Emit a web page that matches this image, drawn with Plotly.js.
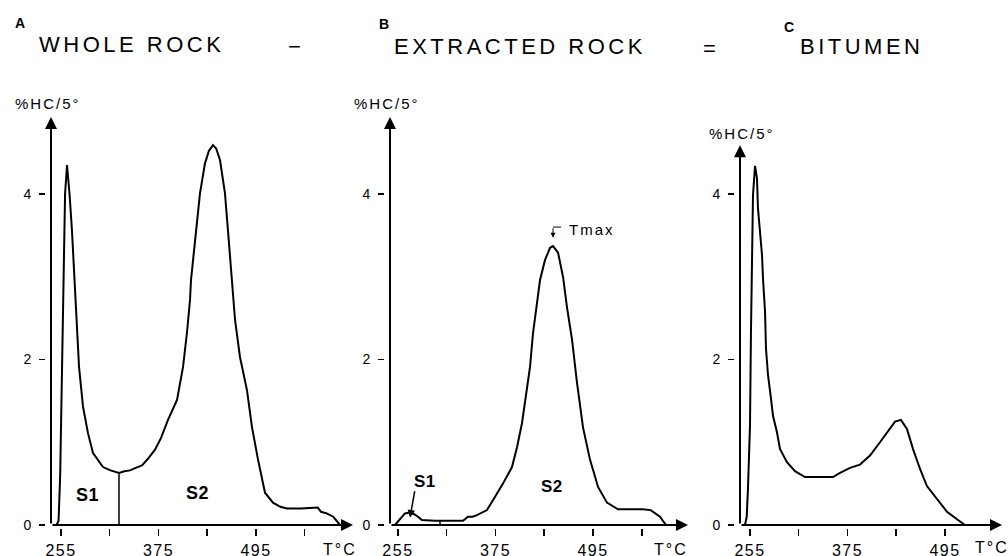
<!DOCTYPE html>
<html><head><meta charset="utf-8">
<script src="https://cdn.plot.ly/plotly-3.0.1.min.js"></script>
<style>
html,body{margin:0;padding:0;background:#fff;}
#chart{width:1008px;height:556px;}
.annotation-text{letter-spacing:2px;}
text[data-unformatted="WHOLE ROCK"],text[data-unformatted="EXTRACTED ROCK"],text[data-unformatted="BITUMEN"]{letter-spacing:3.5px;}
text[data-unformatted="A"],text[data-unformatted="B"],text[data-unformatted="C"],text[data-unformatted="S1"],text[data-unformatted="S2"]{letter-spacing:0.5px;}
.xtick text,.x2tick text,.x3tick text{letter-spacing:1.5px;}
</style></head>
<body><div id="chart"></div>
<script>
// ---- data ----
const tempA = [249.5,252,254,255,256.5,257.5,258.5,260,262.4,264,265.5,268.5,271,274,277.2,282.1,288.2,294.4,306.7,316,326.4,333,339.9,347,354.7,362,370.7,378,386.7,397.8,405.2,410,413.8,415,419.9,426.1,432.2,437,442.1,446,450.7,456.8,460.5,466.7,469.2,475.3,483.9,490.1,497.5,506.1,515.9,525,533.2,550,571,575,582,590,598.4];
const hcA   = [0,0.05,0.6,1.18,2.0,2.72,3.4,4.0,4.35,4.2,4.0,3.56,3.08,2.6,1.91,1.43,1.11,0.87,0.70,0.66,0.63,0.65,0.66,0.69,0.72,0.8,0.91,1.05,1.27,1.51,1.91,2.32,2.72,2.96,3.44,4.01,4.37,4.52,4.59,4.55,4.41,4.01,3.56,2.76,2.48,2.03,1.63,1.18,0.79,0.39,0.27,0.22,0.2,0.2,0.21,0.16,0.14,0.1,0];

const tempB = [251.3,258,263.6,269.8,275,279.6,284.5,300,320,335,341.2,347,352.2,358,364.5,371.9,378,384.2,395.3,401.5,407.6,411.3,417.5,421.2,423.6,426,429.8,435.9,442.1,445.8,452,458.1,463,469.2,475.3,482.7,491.3,501.2,512.2,525.8,540,556,566,572,577.5,581,585];
const hcB   = [0,0.08,0.14,0.15,0.13,0.1,0.06,0.05,0.05,0.05,0.1,0.1,0.12,0.15,0.18,0.3,0.4,0.5,0.7,0.94,1.23,1.51,1.91,2.32,2.5,2.72,2.96,3.2,3.35,3.37,3.29,3.0,2.63,2.24,1.72,1.18,0.79,0.46,0.27,0.19,0.19,0.19,0.18,0.14,0.1,0.05,0];

const tempC = [248.8,251,252.5,255,256.2,257.5,258.7,261.2,263.6,264.8,267.3,269.8,271,273.5,274.7,277.2,280.8,283.3,288.2,291.9,300.5,310.4,322.7,340,357.2,365.8,372,378.1,390.4,402.7,415,424.8,433.5,440.8,448.2,455.6,464.2,472.8,485.2,497.5,509.8,519.6];
const hcC   = [0,0.1,0.44,1.2,2.34,3.35,3.99,4.34,4.19,3.83,3.55,3.26,2.98,2.58,2.13,1.81,1.53,1.32,1.12,0.92,0.76,0.65,0.58,0.58,0.58,0.63,0.66,0.69,0.73,0.84,1.0,1.14,1.25,1.27,1.16,0.92,0.68,0.47,0.32,0.16,0.07,0];

// S1 / S2 split lines
const splitAT = [326.4, 326.4], splitAV = [0, 0.63];
const splitBT = [306.7, 306.7], splitBV = [0, 0.06];

const tickTemps = [255, 315, 375, 435, 495, 555];
const tickTempLabels = ['255', '', '375', '', '495', ''];
const tickTempsC = [255, 315, 375, 435, 495];
const tickTempLabelsC = ['255', '', '375', '', '495'];
const hcTicks = [0, 2, 4];
const hcTickLabels = ['0', '2', '4'];
const tmaxB = [445.8, 3.47];

// ---- layout helpers ----
const W = 1008, H = 556;
const px = x => x / W, py = y => 1 - y / H;
const FONT = 'Liberation Sans, Arial, Helvetica, sans-serif';
const NARROW = 'Liberation Sans Narrow, Arial Narrow, Liberation Sans, sans-serif';
const PX_PER_DEG = 0.8125, PX_PER_HC = 82.75;

const originA = 242.7, endA = 614.4;
const originB = 245.2, endB = 611.9;
const originC = 242.7, endC = 565.2;
const yTopAB = 4.93, yTopC = 4.59;
const yGap = 5 / PX_PER_DEG;   // gap between y ticks and y axis line
const xGap = 3 / PX_PER_HC;    // gap between x axis line and x ticks
const xTickCenter = -6.5 / PX_PER_HC;   // tick marks sit below the axis line
const yTickCenter = 8 / PX_PER_DEG;     // tick marks sit left of the axis line

function curve(x, y, xa, ya, w) {
  return {x: x, y: y, xaxis: xa, yaxis: ya, type: 'scatter', mode: 'lines',
    line: {color: '#000', width: w || 2}, hoverinfo: 'skip', showlegend: false};
}
function tickMarks(x, y, xa, ya, symbol, size) {
  return {x: x, y: y, xaxis: xa, yaxis: ya, type: 'scatter', mode: 'markers', cliponaxis: false,
    marker: {symbol: symbol, size: size, color: '#000', line: {color: '#000', width: 1.5}},
    hoverinfo: 'skip', showlegend: false};
}
const data = [
  curve(tempA, hcA, 'x', 'y'),
  curve(splitAT, splitAV, 'x', 'y', 1.5),
  curve(tempB, hcB, 'x2', 'y2'),
  curve(splitBT, splitBV, 'x2', 'y2', 1.5),
  curve(tempC, hcC, 'x3', 'y3'),
  tickMarks(tickTemps, tickTemps.map(() => xTickCenter), 'x', 'y', 'line-ns-open', 5),
  tickMarks(tickTemps, tickTemps.map(() => xTickCenter), 'x2', 'y2', 'line-ns-open', 5),
  tickMarks(tickTempsC, tickTempsC.map(() => xTickCenter), 'x3', 'y3', 'line-ns-open', 5),
  tickMarks(hcTicks.map(() => originA - yTickCenter), hcTicks, 'x', 'y', 'line-ew-open', 4.3),
  tickMarks(hcTicks.map(() => originB - yTickCenter), hcTicks, 'x2', 'y2', 'line-ew-open', 4.3),
  tickMarks(hcTicks.map(() => originC - yTickCenter), hcTicks, 'x3', 'y3', 'line-ew-open', 4.3)
];

const axBase = {showgrid: false, zeroline: false, showline: false, ticks: 'outside',
  tickcolor: '#000', tickwidth: 1.5, fixedrange: true};
function xAx(dom, rng, vals, txt, anchor) {
  return Object.assign({}, axBase, {domain: dom, range: rng, anchor: anchor, ticklen: 7,
    tickmode: 'array', tickvals: vals, ticktext: txt, ticklabelstandoff: 1,
    tickfont: {family: FONT, size: 16, color: '#000'}});
}
function yAx(dom, rng, anchor) {
  return Object.assign({}, axBase, {domain: dom, range: rng, anchor: anchor, ticklen: 6,
    tickmode: 'array', tickvals: hcTicks, ticktext: hcTickLabels, ticklabelstandoff: 5,
    tickfont: {family: FONT, size: 14, color: '#000'}});
}

function axisArrow(xr, yr, x, y, ax, ay) {
  return {xref: xr, yref: yr, axref: xr, ayref: yr, x: x, y: y, ax: ax, ay: ay, text: '',
    showarrow: true, arrowhead: 2, arrowsize: 1.2, arrowwidth: 2, arrowcolor: '#000', standoff: 0};
}
function label(text, x, y, size, opts) {
  opts = opts || {};
  return {xref: 'paper', yref: 'paper', x: px(x), y: py(y), text: text, showarrow: false,
    xanchor: opts.xa || 'center', yanchor: 'middle',
    font: {family: opts.family || FONT, size: size, color: '#000', weight: opts.bold ? 'bold' : 'normal'}};
}

const annotations = [
  axisArrow('x', 'y', originA, yTopAB, originA, 0),
  axisArrow('x', 'y', endA, 0, originA, 0),
  axisArrow('x2', 'y2', originB, yTopAB, originB, 0),
  axisArrow('x2', 'y2', endB, 0, originB, 0),
  axisArrow('x3', 'y3', originC, yTopC, originC, 0),
  axisArrow('x3', 'y3', endC, 0, originC, 0),
  label('A', 13, 23, 14, {xa: 'left', bold: true, family: NARROW}),
  label('WHOLE ROCK', 37, 45, 22, {xa: 'left'}),
  label('\u2212', 295, 46, 22),
  label('B', 377, 24, 14, {xa: 'left', bold: true, family: NARROW}),
  label('EXTRACTED ROCK', 392, 46.5, 22, {xa: 'left'}),
  label('=', 710, 48, 22),
  label('C', 782, 27, 14, {xa: 'left', bold: true, family: NARROW}),
  label('BITUMEN', 798, 46.5, 22, {xa: 'left'}),
  label('%HC/5°', 13, 104, 15, {xa: 'left'}),
  label('%HC/5°', 352, 104, 15, {xa: 'left'}),
  label('%HC/5°', 707, 133, 15, {xa: 'left'}),
  label('T°C', 340, 549, 16),
  label('T°C', 671, 549, 16),
  label('T°C', 992, 547, 16),
  label('S1', 87, 495, 18, {bold: true, family: NARROW}),
  label('S2', 197, 493, 18, {bold: true, family: NARROW}),
  label('S1', 425, 481, 17, {bold: true, family: NARROW}),
  label('S2', 552, 486, 17, {bold: true, family: NARROW}),
  label('Tmax', 567, 229, 15, {xa: 'left'}),
  {xref: 'x2', yref: 'y2', x: 269.8, y: 0.09, ax: 5, ay: -28, text: '', showarrow: true,
    arrowhead: 2, arrowsize: 1, arrowwidth: 1.5, arrowcolor: '#000', standoff: 0},
  {xref: 'x2', yref: 'y2', x: tmaxB[0], y: tmaxB[1], ax: 0, ay: -11, text: '', showarrow: true,
    arrowhead: 2, arrowsize: 1, arrowwidth: 1, arrowcolor: '#000', standoff: 0}
];

const shapes = [
  {type: 'line', xref: 'x2', yref: 'y2', x0: tmaxB[0], x1: tmaxB[0] + 10, y0: 3.60, y1: 3.60,
    line: {color: '#000', width: 1}}
];

const yDomAB = [py(528), py(117)];
const yDomC = [py(528), py(145.2)];

const layout = {
  width: W, height: H, margin: {l: 0, r: 0, t: 0, b: 0},
  paper_bgcolor: '#fff', plot_bgcolor: 'rgba(0,0,0,0)',
  font: {family: FONT, color: '#000'},
  showlegend: false,
  xaxis: xAx([px(46), px(353)], [originA - yGap, endA], tickTemps, tickTempLabels, 'y'),
  xaxis2: xAx([px(385), px(688)], [originB - yGap, endB], tickTemps, tickTempLabels, 'y2'),
  xaxis3: xAx([px(735), px(1002)], [originC - yGap, endC], tickTempsC, tickTempLabelsC, 'y3'),
  yaxis: yAx(yDomAB, [-xGap, yTopAB], 'x'),
  yaxis2: yAx(yDomAB, [-xGap, yTopAB], 'x2'),
  yaxis3: yAx(yDomC, [-xGap, yTopC], 'x3'),
  annotations: annotations,
  shapes: shapes
};

Plotly.newPlot('chart', data, layout, {displayModeBar: false, staticPlot: true});
</script></body></html>
